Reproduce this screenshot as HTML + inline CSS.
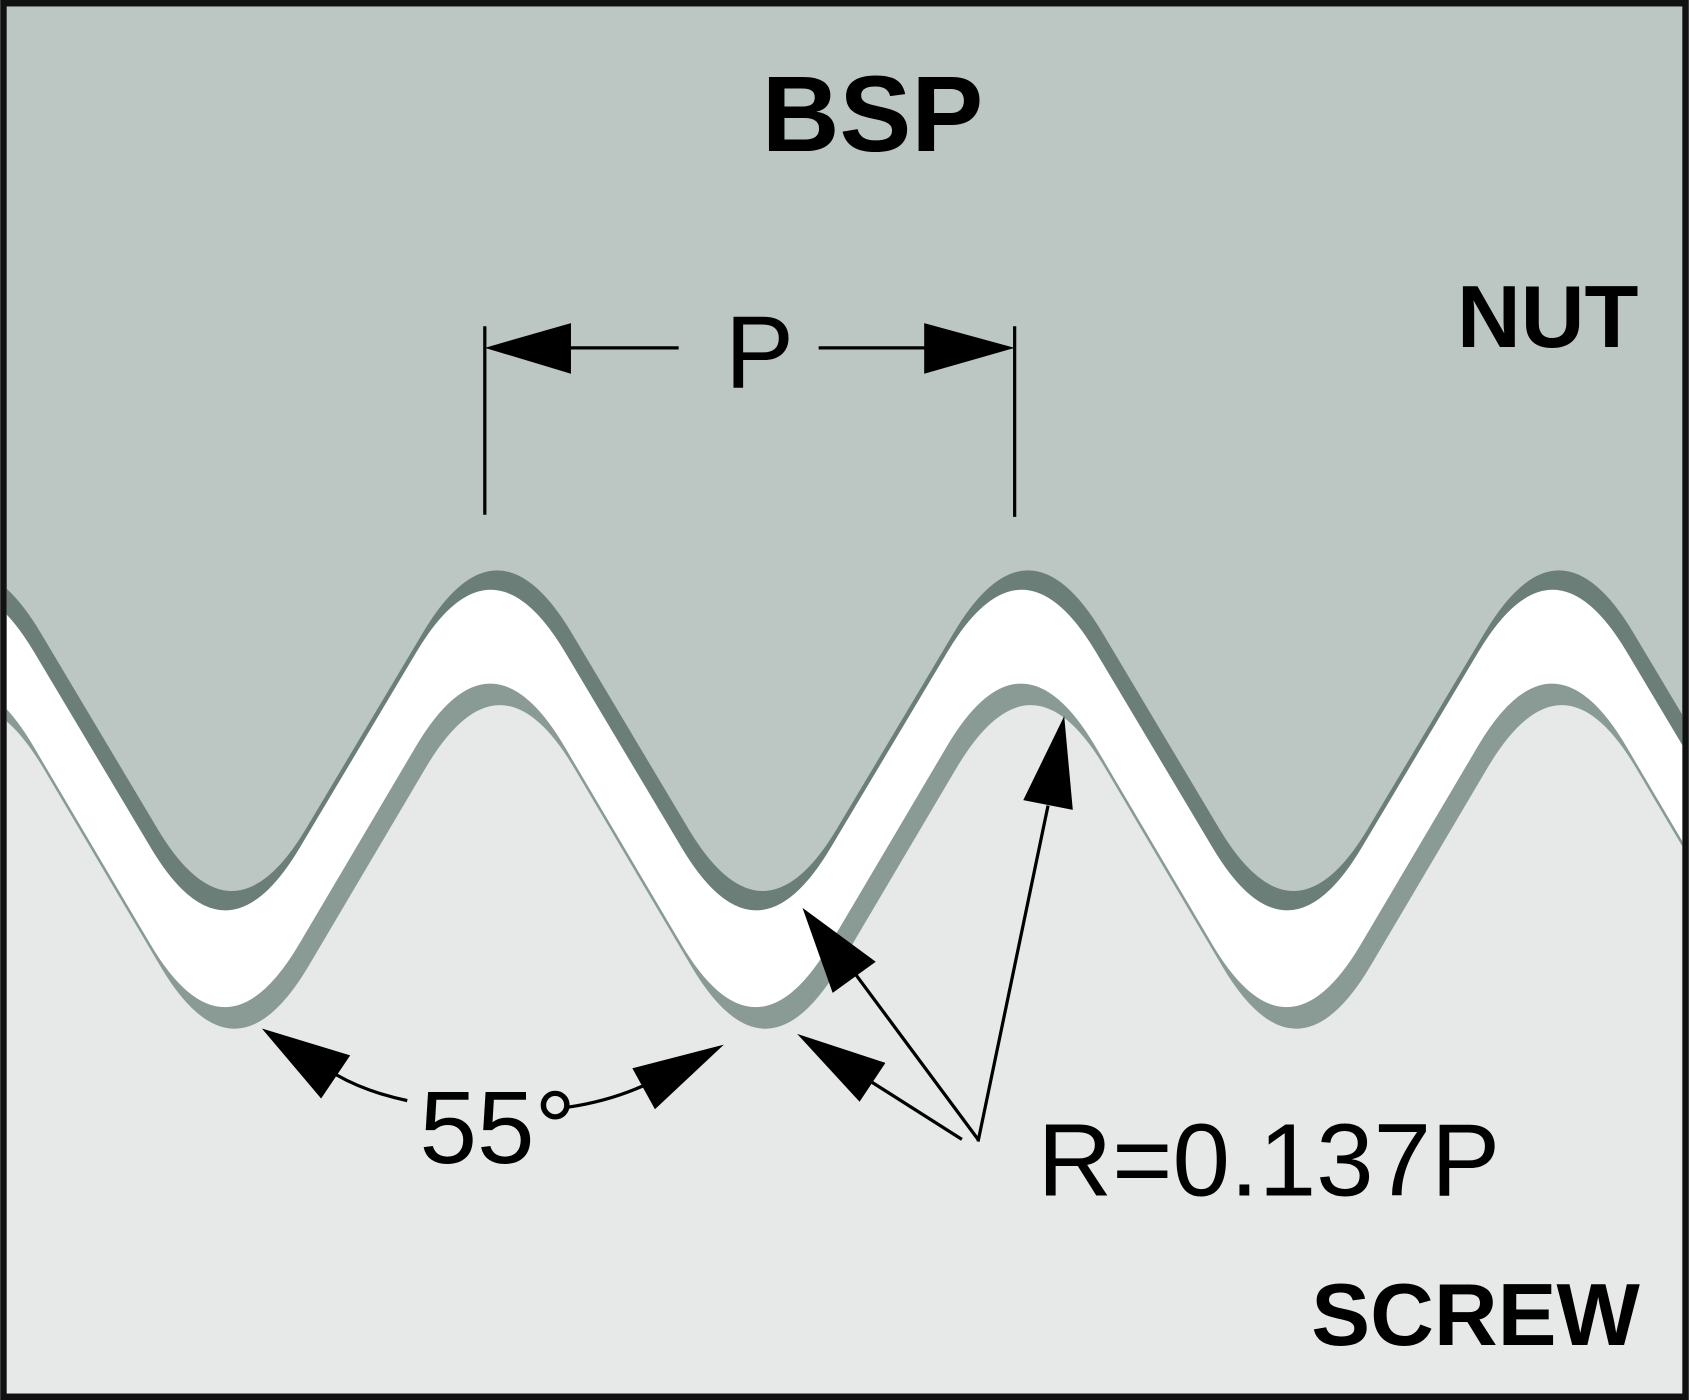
<!DOCTYPE html>
<html><head><meta charset="utf-8"><style>
html,body{margin:0;padding:0;background:#fff;width:1689px;height:1400px;overflow:hidden;}
svg{display:block;}
text{font-family:"Liberation Sans",sans-serif;}
</style></head><body>
<svg id="d" width="1689" height="1400" viewBox="0 0 1568 1300" xmlns="http://www.w3.org/2000/svg">
<defs><clipPath id="c"><rect x="6" y="6" width="1556" height="1288"/></clipPath></defs>
<g clip-path="url(#c)">
<rect x="0" y="0" width="1568" height="1300" fill="#ffffff"/>
<path id="screwBand" fill="#8a9b95"/>
<path id="screwFill" fill="#e6e9e7"/>
<path id="nutShadow" fill="#6b7f78"/>
<path id="nutFill" fill="#bcc7c4"/>
</g>
<rect x="3" y="3" width="1562" height="1294" fill="none" stroke="#111" stroke-width="6"/>

<text x="810" y="140" font-size="100" font-weight="bold" text-anchor="middle">BSP</text>
<text x="1437" y="322" font-size="82" font-weight="bold" text-anchor="middle">NUT</text>
<text x="1370" y="1249" font-size="82" font-weight="bold" text-anchor="middle">SCREW</text>

<g stroke="#000" stroke-width="3" fill="#000">
<line x1="450" y1="303" x2="450" y2="478"/>
<line x1="942" y1="303" x2="942" y2="480"/>
<line x1="528" y1="323" x2="630" y2="323"/>
<line x1="760" y1="323" x2="860" y2="323"/>
<polygon points="450,323 530,300 530,347" stroke="none"/>
<polygon points="942,323 858,300 858,347" stroke="none"/>
</g>
<text x="705" y="360" font-size="96" text-anchor="middle">P</text>

<g stroke="#000" stroke-width="3" fill="#000">
<path d="M312,998 Q340,1014 378,1022" fill="none"/>
<path d="M528,1028 Q568,1022 602,1006" fill="none"/>
<polygon points="243,955 325,980 298,1020" stroke="none"/>
<polygon points="672,970 587,992 608,1030" stroke="none"/>
</g>
<text x="462" y="1080" font-size="96" text-anchor="middle">55°</text>

<g stroke="#000" stroke-width="3" fill="#000">
<line x1="793" y1="903" x2="908" y2="1058"/>
<line x1="808" y1="1004" x2="893" y2="1058"/>
<line x1="973" y1="748" x2="908" y2="1060"/>
<polygon points="745,843 813,893 773,922" stroke="none"/>
<polygon points="740,960 822,987 798,1023" stroke="none"/>
<polygon points="988,665 950,743 996,752" stroke="none"/>
</g>
<text x="1178" y="1110" font-size="96" text-anchor="middle">R=0.137P</text>
</svg>
<script>
const pitch = [493];
const nutTips = [215, 840];
const nutRoots = [517];
const screwCrests = [455, 622];
const screwRoots = [948];
function profile(x0, yA, yB, closeY){
  const p = pitch[0], h = p/2, r = 0.28;
  const depth = 0.5*r*Math.abs(yB-yA);
  const sA = yA > yB ? 1 : -1;
  const vA = yA + sA*depth, vB = yB - sA*depth;
  const pts = [];
  for (let k=-2;k<=4;k++){ pts.push([x0+k*p, vA]); pts.push([x0+k*p+h, vB]); }
  let d = `M${pts[0][0]},${closeY} L${pts[0][0]},${pts[0][1]}`;
  for (let i=1;i<pts.length-1;i++){
    const P=pts[i-1],V=pts[i],N=pts[i+1];
    const s=[V[0]+(P[0]-V[0])*r, V[1]+(P[1]-V[1])*r];
    const e=[V[0]+(N[0]-V[0])*r, V[1]+(N[1]-V[1])*r];
    d += ` L${s[0]},${s[1]} Q${V[0]},${V[1]} ${e[0]},${e[1]}`;
  }
  const L = pts[pts.length-1];
  d += ` L${L[0]},${L[1]} L${L[0]},${closeY} Z`;
  return d;
}
const nut = profile(nutTips[0], nutTips[1], nutRoots[0], -50);
document.getElementById('nutFill').setAttribute('d', nut);
const sh = document.getElementById('nutShadow');
sh.setAttribute('d', nut);
sh.setAttribute('transform','translate(-6,18)');
const scr = profile(screwCrests[0], screwCrests[1], screwRoots[0], 1300);
document.getElementById('screwBand').setAttribute('d', scr);
const sf = document.getElementById('screwFill');
sf.setAttribute('d', scr);
sf.setAttribute('transform','translate(9,20)');
</script>
</body></html>
